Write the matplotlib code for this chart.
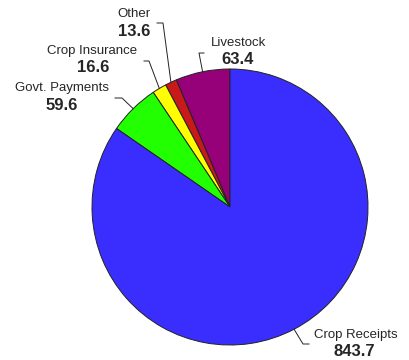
import numpy as np
import matplotlib.pyplot as plt

# data (counter-clockwise from 12 o'clock)
names = ["Livestock", "Other", "Crop Insurance", "Govt. Payments", "Crop Receipts"]
values = [63.4, 13.6, 16.6, 59.6, 843.7]
colors = ["#960078", "#C81A1A", "#FFFF00", "#22FF00", "#3A2EFF"]

# label layout in pixel coords (x, y from top): name centre, value centre, elbow, tail end
name_xy = [(238, 43), (134, 14), (92, 51), (62, 88), (356, 335)]
val_xy = [(238, 60), (134, 31), (93, 68), (62, 105), (354, 352)]
elbow = [(199, 53), (163, 23), (149, 61), (122, 98), (303, 344)]
tail = [(204, 53), (157, 23), (144, 61), (115, 98), (309, 344)]

W, H = 409, 360
cx, cy, r = 230, 360 - 207, 138

plt.rcParams['font.family'] = ['Liberation Sans', 'DejaVu Sans']
fig = plt.figure(figsize=(W / 100, H / 100), dpi=100)
ax = fig.add_axes([0, 0, 1, 1])
ax.set_xlim(0, W)
ax.set_ylim(0, H)
ax.set_aspect('equal')
ax.axis('off')

wedges, _ = ax.pie(values, colors=colors, startangle=90, counterclock=True,
                   center=(cx, cy), radius=r, frame=True,
                   wedgeprops=dict(edgecolor='#222222', linewidth=0.7))
ax.set_xlim(0, W)
ax.set_ylim(0, H)
ax.axis('off')

tc = '#262626'
for w, n, v, nxy, vxy, e, t in zip(wedges, names, values, name_xy, val_xy, elbow, tail):
    mid = np.deg2rad((w.theta1 + w.theta2) / 2)
    x0 = cx + r * np.cos(mid)
    y0 = cy + r * np.sin(mid)
    ax.plot([x0, e[0], t[0]], [y0, H - e[1], H - t[1]], color='#222222', lw=0.7)
    ax.text(nxy[0], H - nxy[1], n, ha='center', va='center', fontsize=9.5, color=tc)
    ax.text(vxy[0], H - vxy[1], f"{v:.1f}", ha='center', va='center', fontsize=12,
            fontweight='bold', color=tc)

fig.savefig("out.png", dpi=100)
